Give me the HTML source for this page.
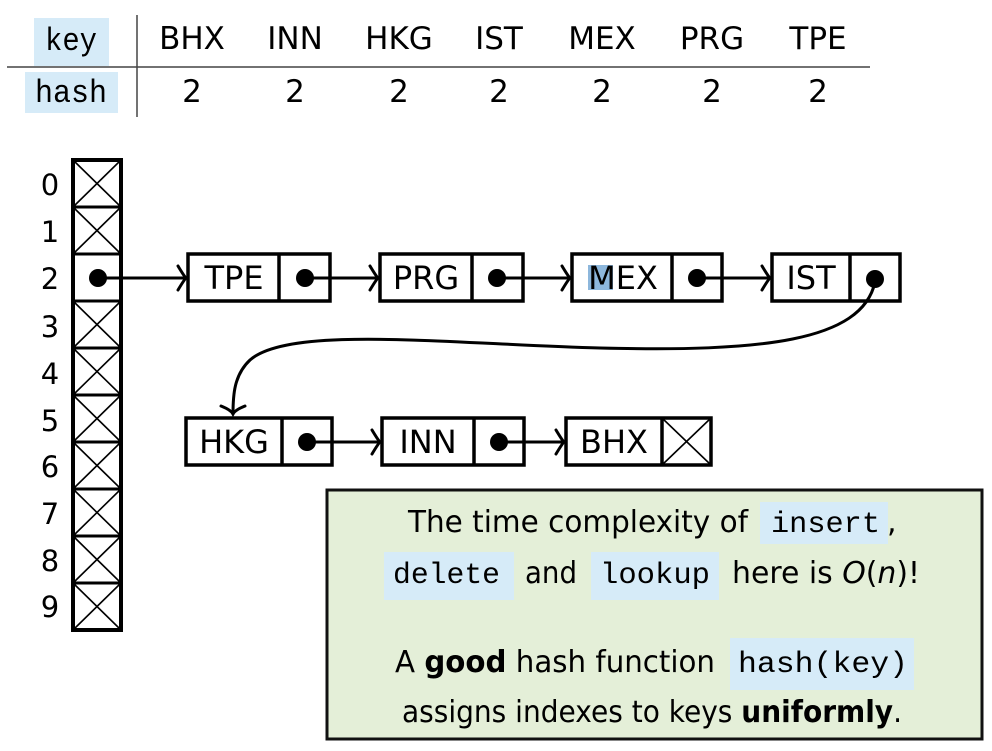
<!DOCTYPE html>
<html><head><meta charset="utf-8"><style>
html,body{margin:0;padding:0;background:#fff;}
svg{display:block;}
text{font-family:"DejaVu Sans","Liberation Sans",sans-serif;}
.m{font-family:"Liberation Mono","DejaVu Sans Mono",monospace;}
</style></head><body>
<svg width="992" height="751" viewBox="0 0 992 751" xmlns="http://www.w3.org/2000/svg">
<!-- table -->
<rect x="34" y="18" width="75" height="48" fill="#d6ebf8"/>
<rect x="25" y="72" width="93" height="41" fill="#d6ebf8"/>
<line x1="137" y1="15" x2="137" y2="117" stroke="#444" stroke-width="1.5"/>
<line x1="7" y1="67" x2="870" y2="67" stroke="#444" stroke-width="1.5"/>
<g font-size="31" text-anchor="middle" fill="#000">
<text class="m" x="71" y="50" font-size="32" textLength="52" lengthAdjust="spacingAndGlyphs">key</text>
<text class="m" x="71" y="102" font-size="32" textLength="72" lengthAdjust="spacingAndGlyphs">hash</text>
<text x="192" y="49">BHX</text><text x="295" y="49">INN</text><text x="399" y="49">HKG</text>
<text x="499" y="49">IST</text><text x="602" y="49">MEX</text><text x="712" y="49">PRG</text><text x="818" y="49">TPE</text>
<text x="192" y="102">2</text><text x="295" y="102">2</text><text x="399" y="102">2</text>
<text x="499" y="102">2</text><text x="602" y="102">2</text><text x="712" y="102">2</text><text x="818" y="102">2</text>
</g>
<!-- array -->
<g stroke="#000" fill="none">
<rect x="73" y="160" width="48" height="470" stroke-width="4"/>
<g stroke-width="3">
<line x1="73" y1="207" x2="121" y2="207"/><line x1="73" y1="254" x2="121" y2="254"/>
<line x1="73" y1="301" x2="121" y2="301"/><line x1="73" y1="348" x2="121" y2="348"/>
<line x1="73" y1="395" x2="121" y2="395"/><line x1="73" y1="442" x2="121" y2="442"/>
<line x1="73" y1="489" x2="121" y2="489"/><line x1="73" y1="536" x2="121" y2="536"/>
<line x1="73" y1="583" x2="121" y2="583"/>
</g>
<g stroke-width="1.6">
<path d="M73 160L121 207M121 160L73 207"/>
<path d="M73 207L121 254M121 207L73 254"/>
<path d="M73 301L121 348M121 301L73 348"/>
<path d="M73 348L121 395M121 348L73 395"/>
<path d="M73 395L121 442M121 395L73 442"/>
<path d="M73 442L121 489M121 442L73 489"/>
<path d="M73 489L121 536M121 489L73 536"/>
<path d="M73 536L121 583M121 536L73 583"/>
<path d="M73 583L121 630M121 583L73 630"/>
</g>
</g>
<g font-size="29" text-anchor="middle">
<text x="50" y="195">0</text><text x="50" y="242">1</text><text x="50" y="289">2</text>
<text x="50" y="337">3</text><text x="50" y="384">4</text><text x="50" y="431">5</text>
<text x="50" y="477">6</text><text x="50" y="524">7</text><text x="50" y="571">8</text><text x="50" y="617">9</text>
</g>
<!-- M highlight -->
<rect x="588" y="265" width="25" height="25" fill="#8db7dc"/>
<!-- nodes -->
<g stroke="#000" stroke-width="3.5" fill="none">
<rect x="188" y="254" width="142" height="47"/><line x1="279" y1="254" x2="279" y2="301"/>
<rect x="380" y="254" width="143" height="47"/><line x1="472" y1="254" x2="472" y2="301"/>
<rect x="572" y="254" width="150" height="47"/><line x1="672" y1="254" x2="672" y2="301"/>
<rect x="772" y="254" width="128" height="47"/><line x1="850" y1="254" x2="850" y2="301"/>
<rect x="186" y="418" width="146" height="47"/><line x1="282" y1="418" x2="282" y2="465"/>
<rect x="382" y="418" width="142" height="47"/><line x1="474" y1="418" x2="474" y2="465"/>
<rect x="566" y="418" width="145" height="47"/><line x1="662" y1="418" x2="662" y2="465"/>
</g>
<path d="M662 418L711 465M711 418L662 465" stroke="#000" stroke-width="1.6"/>
<g font-size="32" text-anchor="middle">
<text x="234" y="289">TPE</text><text x="426" y="289">PRG</text><text x="623" y="289">MEX</text><text x="811" y="289">IST</text>
<text x="234" y="453">HKG</text><text x="428" y="453">INN</text><text x="614" y="453">BHX</text>
</g>
<!-- dots and arrows -->
<g fill="#000">
<circle cx="98" cy="278" r="9"/><circle cx="305" cy="278" r="9"/><circle cx="497" cy="278" r="9"/>
<circle cx="697" cy="278" r="9"/><circle cx="875" cy="279" r="9"/>
<circle cx="307" cy="442" r="9"/><circle cx="499" cy="442" r="9"/>
</g>
<g stroke="#000" stroke-width="3" fill="none" stroke-linecap="round">
<path d="M98 278H186M178 266Q184 276 186 278Q184 280 178 290"/>
<path d="M305 278H378M370 266Q376 276 378 278Q376 280 370 290"/>
<path d="M497 278H570M562 266Q568 276 570 278Q568 280 562 290"/>
<path d="M697 278H770M762 266Q768 276 770 278Q768 280 762 290"/>
<path d="M307 442H380M372 430Q378 440 380 442Q378 444 372 454"/>
<path d="M499 442H564M556 430Q562 440 564 442Q562 444 556 454"/>
<path d="M875 282C862 342 760 352 600 348C450 344 290 325 250 360C234 375 233 395 233 414"/>
<path d="M221 406Q231 410 233 414Q235 410 245 406"/>
</g>
<!-- green box -->
<rect x="327" y="490" width="655" height="249" fill="#e4efd8" stroke="#111" stroke-width="3"/>
<rect x="760" y="502" width="128" height="42" fill="#d6ebf8"/>
<rect x="384" y="552" width="130" height="48" fill="#d6ebf8"/>
<rect x="591" y="552" width="128" height="48" fill="#d6ebf8"/>
<rect x="730" y="638" width="184" height="52" fill="#d6ebf8"/>
<g font-size="30" fill="#000" lengthAdjust="spacingAndGlyphs">
<text x="408" y="532" textLength="340" lengthAdjust="spacingAndGlyphs">The time complexity of</text>
<text class="m" x="771" y="532" textLength="109" lengthAdjust="spacingAndGlyphs">insert</text>
<text x="887" y="532">,</text>
<text class="m" x="393" y="583" textLength="107" lengthAdjust="spacingAndGlyphs">delete</text>
<text x="525" y="583" textLength="52" lengthAdjust="spacingAndGlyphs">and</text>
<text class="m" x="600" y="583" textLength="110" lengthAdjust="spacingAndGlyphs">lookup</text>
<text x="732" y="583" textLength="188" lengthAdjust="spacingAndGlyphs">here is <tspan font-style="italic">O</tspan>(<tspan font-style="italic">n</tspan>)!</text>
<text x="395" y="672" textLength="320" lengthAdjust="spacingAndGlyphs">A <tspan font-weight="bold">good</tspan> hash function</text>
<text class="m" x="738" y="672" textLength="170" lengthAdjust="spacingAndGlyphs">hash(key)</text>
<text x="402" y="722" textLength="500" lengthAdjust="spacingAndGlyphs">assigns indexes to keys <tspan font-weight="bold">uniformly</tspan>.</text>
</g>
</svg>
</body></html>
